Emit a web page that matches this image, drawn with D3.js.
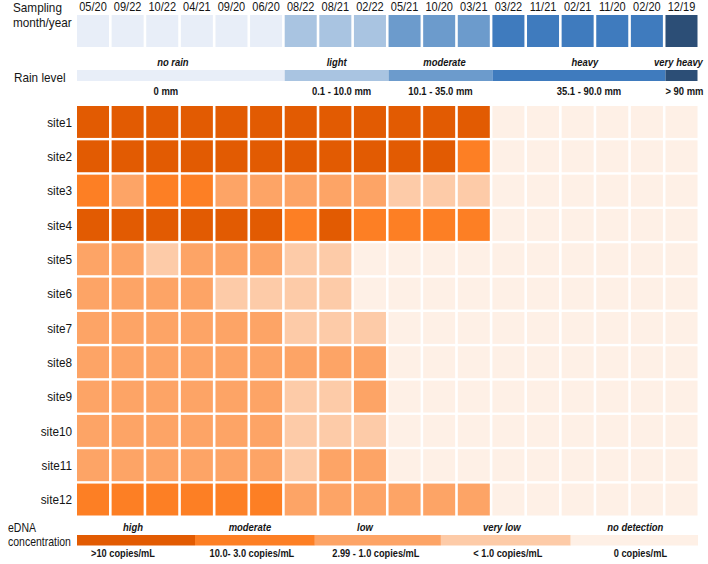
<!DOCTYPE html>
<html><head><meta charset="utf-8">
<script src="https://cdn.jsdelivr.net/npm/d3@7"></script>
<style>
html,body{margin:0;padding:0;background:#fff;}
text{font-family:"Liberation Sans",Arial,sans-serif;fill:#151515;}
</style></head>
<body><svg id="chart" width="708" height="564"></svg>
<script>
// ---- data ----
const months = ["05/20","09/22","10/22","04/21","09/20","06/20","08/22","08/21","02/22","05/21","10/20","03/21","03/22","11/21","02/21","11/20","02/20","12/19"];
// rain level per month: 0 no rain, 1 light, 2 moderate, 3 heavy, 4 very heavy
const rainLevel = [0,0,0,0,0,0,1,1,1,2,2,2,3,3,3,3,3,4];
const rainNames = ["no rain","light","moderate","heavy","very heavy"];
const rainRanges = ["0 mm","0.1 - 10.0 mm","10.1 - 35.0 mm","35.1 - 90.0 mm","> 90 mm"];
const sites = ["site1","site2","site3","site4","site5","site6","site7","site8","site9","site10","site11","site12"];
// eDNA level: 4 high, 3 moderate, 2 low, 1 very low, 0 no detection
const site1  = [4,4,4,4,4,4,4,4,4,4,4,4,0,0,0,0,0,0];
const site2  = [4,4,4,4,4,4,4,4,4,4,4,3,0,0,0,0,0,0];
const site3  = [3,2,3,3,2,2,2,2,2,1,1,1,0,0,0,0,0,0];
const site4  = [4,4,4,4,4,4,3,4,3,3,3,3,0,0,0,0,0,0];
const site5  = [2,2,1,2,2,2,1,1,0,0,0,0,0,0,0,0,0,0];
const site6  = [2,2,2,2,1,1,1,1,0,0,0,0,0,0,0,0,0,0];
const site7  = [2,2,2,2,2,2,1,1,1,0,0,0,0,0,0,0,0,0];
const site8  = [2,2,2,2,2,2,2,2,2,0,0,0,0,0,0,0,0,0];
const site9  = [2,2,2,2,2,2,1,1,2,0,0,0,0,0,0,0,0,0];
const site10 = [2,2,2,2,2,2,1,1,1,0,0,0,0,0,0,0,0,0];
const site11 = [2,2,2,2,2,2,1,2,2,0,0,0,0,0,0,0,0,0];
const site12 = [3,3,3,3,3,3,2,2,2,2,2,2,0,0,0,0,0,0];
const siteValues = [site1,site2,site3,site4,site5,site6,site7,site8,site9,site10,site11,site12];
const ednaLevels = [4,3,2,1,0];
const ednaNames = ["high","moderate","low","very low","no detection"];
const ednaRanges = [">10 copies/mL","10.0- 3.0 copies/mL","2.99 - 1.0 copies/mL","< 1.0 copies/mL","0 copies/mL"];

// ---- styles / layout ----
const rainColor = d3.scaleOrdinal().domain([0,1,2,3,4]).range(["#E8EEF8","#A9C4E1","#6C9BCC","#3F7BBE","#2C4E76"]);
const ednaColor = d3.scaleOrdinal().domain([0,1,2,3,4]).range(["#FEF0E6","#FDCBA8","#FDA466","#FD7F24","#E25B02"]);
const legendStops = [0,0.19,0.383,0.586,0.795,1];

const svg = d3.select("#chart");
const x = d3.scaleBand().domain(months).range([77, 697.5]).paddingInner(2.6/34.6).paddingOuter(0);
const y = d3.scaleBand().domain(sites).range([106, 515.5]).paddingInner(2.4/34.3).paddingOuter(0);
const bw = x.bandwidth();

// helper: horizontally condensed text
function ctext(g, px, py, str, size, opts={}){
  const t = g.append("text")
    .attr("transform",`translate(${px},${py}) scale(${opts.sx||0.87},1)`)
    .attr("text-anchor",opts.anchor||"start")
    .style("font-size",size+"px")
    .text(str);
  if(opts.italic) t.style("font-style","italic");
  if(opts.bold) t.style("font-weight","bold");
  return t;
}

// header labels
ctext(svg,13,12,"Sampling",13.5);
ctext(svg,13,26.5,"month/year",13.5);
ctext(svg,14,82,"Rain level",13.5);

// month labels (axis for positions, condensed text)
const ax = svg.append("g").attr("class","xaxis").call(d3.axisTop(x).tickSize(0)).attr("transform","translate(0,0)");
ax.select(".domain").remove();
ax.selectAll(".tick text").remove();
ax.selectAll(".tick").each(function(d){
  ctext(d3.select(this),0,10.5,d,12.5,{anchor:"middle",sx:0.88});
});

// rain blocks
svg.append("g").selectAll("rect").data(months).join("rect")
  .attr("x",d=>x(d)).attr("y",15).attr("width",bw).attr("height",32)
  .attr("fill",(d,i)=>rainColor(rainLevel[i]));

// rain level bar
const rainSegs = rainNames.map((name,k)=>{
  const idx = rainLevel.map((v,i)=>v===k?i:-1).filter(i=>i>=0);
  const first = idx[0], last = idx[idx.length-1];
  const x0 = x(months[first]);
  const x1 = last+1 < months.length ? x(months[last+1]) : x(months[last])+bw;
  return {k,name,range:rainRanges[k],x0,x1};
});
const rainLabelDx = [-8,0,4,6,-3];
const rainRangeDx = [-15,5,0,10,3];
svg.append("g").selectAll("rect").data(rainSegs).join("rect")
  .attr("x",d=>d.x0).attr("y",70).attr("width",d=>d.x1-d.x0).attr("height",11)
  .attr("fill",d=>rainColor(d.k));
const rl = svg.append("g");
rainSegs.forEach((d,i)=>{
  ctext(rl,(d.x0+d.x1)/2+rainLabelDx[i],65.5,d.name,10.5,{anchor:"middle",italic:true,bold:true,sx:0.9});
  ctext(rl,(d.x0+d.x1)/2+rainRangeDx[i],94.5,d.range,10.5,{anchor:"middle",bold:true,sx:0.9});
});

// heatmap cells
const cells = [];
sites.forEach((s,r)=>months.forEach((m,c)=>cells.push({s,m,v:siteValues[r][c]})));
svg.append("g").selectAll("rect").data(cells).join("rect")
  .attr("x",d=>x(d.m)).attr("y",d=>y(d.s)).attr("width",bw).attr("height",y.bandwidth())
  .attr("fill",d=>ednaColor(d.v));

// site labels (axis for positions, condensed text)
const ay = svg.append("g").attr("transform","translate(72,0)").call(d3.axisLeft(y).tickSize(0));
ay.select(".domain").remove();
ay.selectAll(".tick text").remove();
ay.selectAll(".tick").each(function(d){
  ctext(d3.select(this),0,4.8,d,13.5,{anchor:"end"});
});

// eDNA legend
ctext(svg,8,531.5,"eDNA",12.8,{sx:0.82});
ctext(svg,8,545.5,"concentration",12.8,{sx:0.82});
const lx = d3.scaleLinear().domain([0,1]).range([77,698]);
const legSegs = ednaLevels.map((v,i)=>({v,name:ednaNames[i],range:ednaRanges[i],x0:lx(legendStops[i]),x1:lx(legendStops[i+1])}));
const legNameDx = [-3,-5,-13,-4,1];
const legRangeDx = [-13,-3,-2,2,6];
svg.append("g").selectAll("rect").data(legSegs).join("rect")
  .attr("x",d=>d.x0).attr("y",535).attr("width",d=>d.x1-d.x0).attr("height",10.5)
  .attr("fill",d=>ednaColor(d.v));
const ll = svg.append("g");
legSegs.forEach((d,i)=>{
  ctext(ll,(d.x0+d.x1)/2+legNameDx[i],531,d.name,10.5,{anchor:"middle",italic:true,bold:true,sx:0.9});
  ctext(ll,(d.x0+d.x1)/2+legRangeDx[i],557,d.range,10.5,{anchor:"middle",bold:true,sx:0.88});
});
</script></body></html>
